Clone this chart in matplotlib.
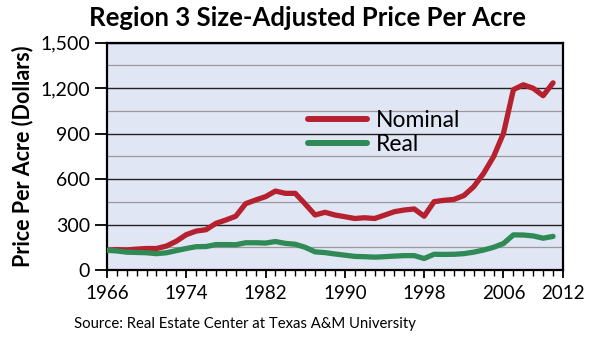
import matplotlib
matplotlib.use("Agg")
import matplotlib.pyplot as plt
from matplotlib.ticker import MultipleLocator, FuncFormatter

years = list(range(1966, 2012))
nominal = [130, 135, 132, 138, 142, 142, 158, 190, 233, 257,
           266, 308, 330, 355, 438, 462, 484, 521, 506, 506,
           436, 363, 381, 363, 352, 340, 345, 340, 362, 385,
           396, 403, 355, 451, 460, 466, 491, 550, 638, 748,
           902, 1190, 1222, 1199, 1150, 1235]
real = [130, 126, 118, 116, 114, 108, 114, 128, 142, 154,
        155, 168, 168, 167, 180, 180, 178, 188, 176, 170,
        150, 120, 115, 106, 98, 90, 88, 85, 88, 92,
        95, 95, 76, 104, 103, 104, 108, 118, 132, 150,
        175, 232, 231, 225, 210, 222]
xticks = [1966, 1974, 1982, 1990, 1998, 2006, 2012]
yticks = [0, 300, 600, 900, 1200, 1500]

plt.rcParams["font.family"] = ["Lato", "DejaVu Sans"]

fig = plt.figure(figsize=(5.97, 3.44), dpi=100)
ax = fig.add_axes([0.179, 0.215, 0.764, 0.661])
ax.set_facecolor("#e1e6f4")

ax.plot(years, nominal, color="#b5212e", lw=3.8, solid_capstyle="round",
        solid_joinstyle="round", label="Nominal", zorder=3)
ax.plot(years, real, color="#2f8a55", lw=3.8, solid_capstyle="round",
        solid_joinstyle="round", label="Real", zorder=3)

ax.set_xlim(1966, 2012)
ax.set_ylim(0, 1500)
ax.set_xticks(xticks)
ax.xaxis.set_minor_locator(MultipleLocator(1))
ax.set_yticks(yticks)
ax.yaxis.set_minor_locator(MultipleLocator(150))
ax.yaxis.set_major_formatter(FuncFormatter(lambda v, p: f"{int(v):,}"))

ax.grid(axis="y", which="major", color="#222222", lw=1.0, zorder=1)
ax.grid(axis="y", which="minor", color="#9a9a9a", lw=0.9, zorder=1)
ax.set_axisbelow(True)

for s in ax.spines.values():
    s.set_linewidth(1.6)
    s.set_color("black")

ax.tick_params(axis="y", which="major", direction="out", length=9, width=1.3,
               pad=3, labelsize=14)
ax.tick_params(axis="y", which="minor", length=0)
ax.tick_params(axis="x", which="major", direction="out", length=6, width=1.3,
               pad=5, labelsize=13.5)
ax.tick_params(axis="x", which="minor", direction="out", length=4, width=1.0)

ax.set_ylabel("Price Per Acre (Dollars)", fontsize=15.5, fontweight="bold",
              labelpad=5)

leg = ax.legend(loc="upper left", bbox_to_anchor=(0.42, 0.745), frameon=False,
                fontsize=16.5, handlelength=2.6, handletextpad=0.4,
                labelspacing=0.12, borderaxespad=0)
for h in leg.get_lines():
    h.set_linewidth(4.3)

fig.text(0.515, 0.948, "Region 3 Size-Adjusted Price Per Acre", ha="center",
         va="center", fontsize=18.5, fontweight="bold")
fig.text(0.124, 0.058, "Source: Real Estate Center at Texas A&M University",
         ha="left", va="center", fontsize=10.7)

fig.savefig("out.png", dpi=100)
